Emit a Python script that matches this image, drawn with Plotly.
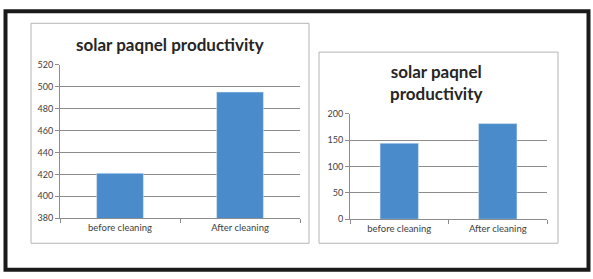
import plotly.graph_objects as go

W, H = 593, 279

categories = ["before cleaning", "After cleaning"]
left_values = [421, 495]
right_values = [144, 181]
left_ticks = [380, 400, 420, 440, 460, 480, 500, 520]
right_ticks = [0, 50, 100, 150, 200]
title_text = "solar paqnel productivity"

BAR = "#4a8ccb"
GRID = "#8c8c8c"
FONT = "Lato"

def px(x):
    return x / W

def py(y):
    return 1 - y / H

fig = go.Figure()
fig.add_trace(go.Bar(x=categories, y=left_values, marker_color=BAR, xaxis="x", yaxis="y",
                     width=0.39))
fig.add_trace(go.Bar(x=categories, y=right_values, marker_color=BAR, xaxis="x2", yaxis="y2",
                     width=0.39))

axis_common = dict(showline=True, linecolor=GRID, linewidth=1, zeroline=False)
fig.update_layout(
    width=W, height=H, margin=dict(l=0, r=0, t=0, b=0),
    paper_bgcolor="white", plot_bgcolor="white", showlegend=False,
    font=dict(family=FONT, color="#404040"),
    xaxis=dict(domain=[px(60), px(300)], anchor="y", showgrid=False,
               ticks="outside", tickcolor=GRID, ticklen=4, tickson="boundaries",
               tickfont=dict(size=9.5, color="#404040"), **axis_common),
    yaxis=dict(domain=[py(221), py(61)], anchor="x", range=[380, 520], tickvals=left_ticks,
               showgrid=True, gridcolor=GRID, gridwidth=1, ticks="outside", tickcolor=GRID,
               ticklen=4, tickfont=dict(size=9, color="#404040"), **axis_common),
    xaxis2=dict(domain=[px(350), px(547)], anchor="y2", showgrid=False,
                ticks="outside", tickcolor=GRID, ticklen=4, tickson="boundaries",
                tickfont=dict(size=9.5, color="#404040"), **axis_common),
    yaxis2=dict(domain=[py(222), py(112)], anchor="x2", range=[0, 200], tickvals=right_ticks,
                showgrid=True, gridcolor=GRID, gridwidth=1, ticks="outside", tickcolor=GRID,
                ticklen=4, tickfont=dict(size=9, color="#404040"), **axis_common),
)

shapes = [
    dict(type="rect", xref="paper", yref="paper", x0=px(5.5), x1=px(588.5), y0=py(274.5), y1=py(5.5),
         line=dict(color="#1a1a1a", width=4)),
    dict(type="rect", xref="paper", yref="paper", x0=px(31), x1=px(309), y0=py(247), y1=py(18),
         line=dict(color="#b4b4b4", width=1)),
    dict(type="rect", xref="paper", yref="paper", x0=px(319), x1=px(558), y0=py(247), y1=py(48),
         line=dict(color="#b4b4b4", width=1)),
]
fig.update_layout(shapes=shapes)

fig.add_annotation(text="<b>" + title_text + "</b>", xref="paper", yref="paper",
                   x=px(170), y=py(40), showarrow=False, xanchor="center", yanchor="middle",
                   font=dict(size=17, color="#262626", family=FONT))
fig.add_annotation(text="<b>solar paqnel<br>productivity</b>", xref="paper", yref="paper",
                   x=px(437), y=py(80), showarrow=False, xanchor="center", yanchor="middle",
                   font=dict(size=17, color="#262626", family=FONT))

fig.write_html("out.html", config={"displayModeBar": False},
               post_script="document.body.style.margin='0';document.body.style.overflow='hidden';")
